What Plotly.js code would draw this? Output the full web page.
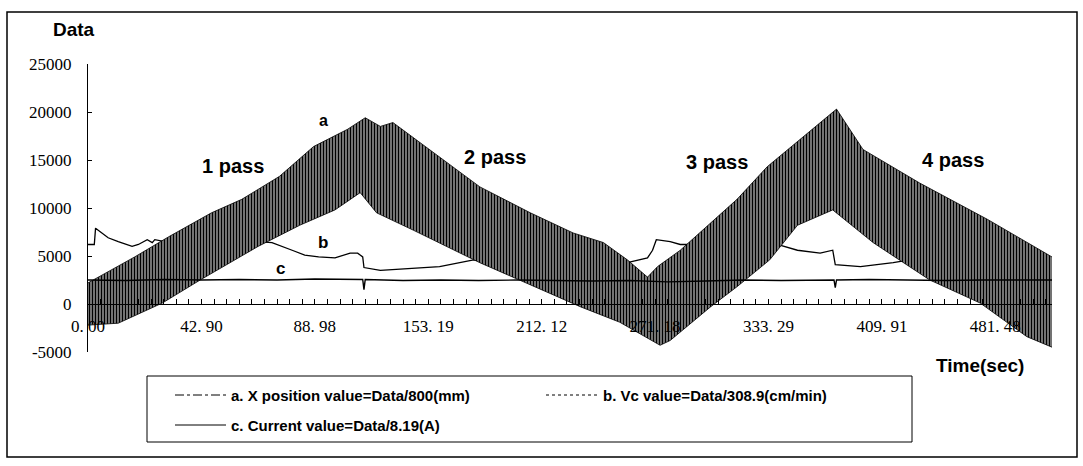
<!DOCTYPE html>
<html>
<head>
<meta charset="utf-8">
<script src="https://cdn.plot.ly/plotly-3.0.1.min.js"></script>
<style>html,body{margin:0;padding:0;background:#fff;}#chart{width:1083px;height:466px;}</style>
</head>
<body>
<div id="chart"></div>
<script>
// ---- data (x in sample-tick units, y in "Data") ----
var xTickLabels = ["0. 00", "42. 90", "88. 98", "153. 19", "212. 12", "271. 18", "333. 29", "409. 91", "481. 48"];
var yTickValues = [-5000, 0, 5000, 10000, 15000, 20000, 25000];
var yTickLabels = ["-5000", "0", "5000", "10000", "15000", "20000", "25000"];

// a. X position value: upper and lower envelope of the dense band
var aUpperX = [0, 3.7, 6.4, 9.8, 12.2, 15.2, 17.9, 20.6, 22.0, 23.2, 24.2, 27.9, 31.1, 35.1, 38.5, 40.9, 42.8, 44.4, 45.2, 47.0, 48.8, 51.5, 53.9, 56.5, 59.4, 61.5, 66.0, 71.4, 75.3, 76.5];
var aUpperY = [2200, 4900, 7000, 9500, 10900, 13300, 16400, 18200, 19400, 18500, 18900, 15300, 12200, 9500, 7400, 6400, 4600, 2800, 3900, 5600, 7700, 10900, 14300, 17100, 20300, 16100, 12600, 8800, 5800, 4900];
var aLowerX = [0, 2.4, 5.9, 8.9, 13.5, 16.8, 19.6, 21.6, 22.9, 25.8, 31.1, 35.1, 39.1, 42.2, 45.4, 46.2, 49.4, 51.5, 54.1, 56.3, 59.1, 62.3, 66.8, 70.8, 74.5, 76.5];
var aLowerY = [-2200, -2000, 100, 2500, 6000, 8200, 9800, 11600, 9500, 7700, 4300, 2000, -300, -1900, -4300, -3800, -300, 1800, 4600, 8200, 9800, 6400, 2500, 100, -3400, -4500];

// b. Vc value
var bX = [0, 0.5, 0.6, 1.6, 2.4, 3.5, 4.0, 4.7, 5.1, 5.3, 6.1, 8.9, 12.1, 13.8, 14.6, 16.2, 17.2, 18.3, 19.6, 20.8, 21.4, 21.8, 21.9, 23.2, 25.8, 27.9, 30.6, 31.4, 35.1, 39.1, 42.8, 44.4, 44.8, 45.1, 46.2, 47.0, 51.0, 54.7, 56.3, 58.1, 59.1, 59.3, 61.3, 63.9, 65.2, 69.2, 73.2, 76.5];
var bY = [6200, 6200, 7900, 6900, 6500, 6000, 6200, 6700, 6400, 6700, 6500, 6500, 6600, 6500, 6400, 5600, 5100, 4900, 4800, 5300, 5300, 4900, 3800, 3500, 3700, 3900, 4600, 4500, 4400, 4400, 4300, 4800, 5600, 6700, 6500, 6200, 6200, 6200, 5600, 5300, 5600, 4100, 3900, 4300, 4600, 4700, 4800, 4800];

// c. Current value
var cX = [0, 3, 6, 9, 12, 15, 18, 21.8, 21.9, 22.0, 25, 28, 31, 34, 37, 40, 43, 46, 49, 52, 55, 59.2, 59.3, 59.4, 62, 65, 68, 71, 74, 76.5];
var cY = [2500, 2450, 2550, 2500, 2550, 2500, 2600, 2550, 1500, 2550, 2450, 2500, 2450, 2500, 2450, 2400, 2450, 2300, 2400, 2500, 2450, 2500, 1700, 2500, 2550, 2500, 2450, 2500, 2500, 2500];

var legendNames = ["a. X position value=Data/800(mm)", "b. Vc value=Data/308.9(cm/min)", "c. Current value=Data/8.19(A)"];
var passLabels = ["1 pass", "2 pass", "3 pass", "4 pass"];

// ---- layout helpers (pixel -> paper) ----
var L = 88, R = 31, T = 64, B = 114, W = 1083, H = 466;
var PW = W - L - R, PH = H - T - B;
function px(x) { return (x - L) / PW; }
function py(y) { return (H - B - y) / PH; }

var sans = "Liberation Sans, Arial, sans-serif";
var serif = "Liberation Serif, Times New Roman, serif";

var traces = [
  {x: bX, y: bY, mode: 'lines', name: legendNames[1], line: {color: '#000', width: 1.3}, showlegend: false},
  {x: aLowerX, y: aLowerY, mode: 'lines', line: {color: '#000', width: 0.8}, showlegend: false, hoverinfo: 'skip'},
  {x: aUpperX, y: aUpperY, mode: 'lines', name: legendNames[0], line: {color: '#000', width: 0.8},
   fill: 'tonexty', fillcolor: '#333',
   fillpattern: {shape: '|', size: 3, solidity: 0.7, fgcolor: '#000', bgcolor: '#ffffff'},
   showlegend: false},
  {x: cX, y: cY, mode: 'lines', name: legendNames[2], line: {color: '#000', width: 1.4}, showlegend: false}
];

var tickVals = xTickLabels.map(function (_, i) { return i * 9; });

var annotations = [
  {text: 'Data', x: px(74), y: py(29), font: {family: sans, size: 19, color: '#000', weight: 'bold'}},
  {text: 'Time(sec)', x: px(980), y: py(365), font: {family: sans, size: 19, color: '#000', weight: 'bold'}},
  {text: passLabels[0], x: px(233), y: py(166), font: {family: sans, size: 20, color: '#000', weight: 'bold'}},
  {text: passLabels[1], x: px(495), y: py(157), font: {family: sans, size: 20, color: '#000', weight: 'bold'}},
  {text: passLabels[2], x: px(717), y: py(162), font: {family: sans, size: 20, color: '#000', weight: 'bold'}},
  {text: passLabels[3], x: px(953), y: py(160), font: {family: sans, size: 20, color: '#000', weight: 'bold'}},
  {text: 'a', x: px(323), y: py(121), font: {family: sans, size: 16, color: '#000', weight: 'bold'}},
  {text: 'b', x: px(323), y: py(242), font: {family: sans, size: 17, color: '#000', weight: 'bold'}},
  {text: 'c', x: px(280), y: py(268), font: {family: sans, size: 17, color: '#000', weight: 'bold'}},
  {text: legendNames[0], x: px(229), y: py(395), xanchor: 'left', font: {family: sans, size: 15, color: '#000', weight: 'bold'}},
  {text: legendNames[1], x: px(601), y: py(395), xanchor: 'left', font: {family: sans, size: 15, color: '#000', weight: 'bold'}},
  {text: legendNames[2], x: px(229), y: py(425), xanchor: 'left', font: {family: sans, size: 15, color: '#000', weight: 'bold'}}
].map(function (a) {
  return Object.assign({xref: 'paper', yref: 'paper', showarrow: false, xanchor: 'center', yanchor: 'middle'}, a);
});

var shapes = [
  // outer frame
  {type: 'rect', xref: 'paper', yref: 'paper', x0: px(7), x1: px(1077), y0: py(457), y1: py(12), line: {color: '#000', width: 1.5}},
  // legend box
  {type: 'rect', xref: 'paper', yref: 'paper', x0: px(147), x1: px(912), y0: py(442), y1: py(376), line: {color: '#000', width: 1}},
  // legend samples
  {type: 'line', xref: 'paper', yref: 'paper', x0: px(175), x1: px(226), y0: py(395), y1: py(395), line: {color: '#000', width: 1, dash: 'dashdot'}},
  {type: 'line', xref: 'paper', yref: 'paper', x0: px(546), x1: px(597), y0: py(395), y1: py(395), line: {color: '#000', width: 1, dash: 'dot'}},
  {type: 'line', xref: 'paper', yref: 'paper', x0: px(175), x1: px(226), y0: py(425), y1: py(425), line: {color: '#000', width: 1}}
];

var layout = {
  width: W, height: H,
  margin: {l: L, r: R, t: T, b: B, pad: 0},
  paper_bgcolor: '#fff', plot_bgcolor: '#fff',
  showlegend: false,
  xaxis: {
    range: [0, 76.5], anchor: 'free', position: 1 / 6,
    showgrid: false, zeroline: false, showline: true, linecolor: '#000', linewidth: 1.3,
    tickmode: 'array', tickvals: tickVals, ticktext: xTickLabels,
    ticks: 'inside', ticklen: 5, tickcolor: '#000', tickwidth: 1,
    minor: {tickmode: 'linear', tick0: 0, dtick: 1, ticks: 'inside', ticklen: 5, tickcolor: '#000', tickwidth: 1, showgrid: false},
    tickfont: {family: serif, size: 17, color: '#000'}, ticklabelstandoff: 6,
    fixedrange: true
  },
  yaxis: {
    range: [-5000, 25000], tickmode: 'array', tickvals: yTickValues, ticktext: yTickLabels,
    showgrid: false, zeroline: false, showline: true, linecolor: '#000', linewidth: 1,
    ticks: 'inside', ticklen: 4, tickcolor: '#000',
    tickfont: {family: serif, size: 17, color: '#000'}, ticklabelstandoff: 12,
    fixedrange: true
  },
  annotations: annotations,
  shapes: shapes
};

Plotly.newPlot('chart', traces, layout, {displayModeBar: false, staticPlot: true});
</script>
</body>
</html>
